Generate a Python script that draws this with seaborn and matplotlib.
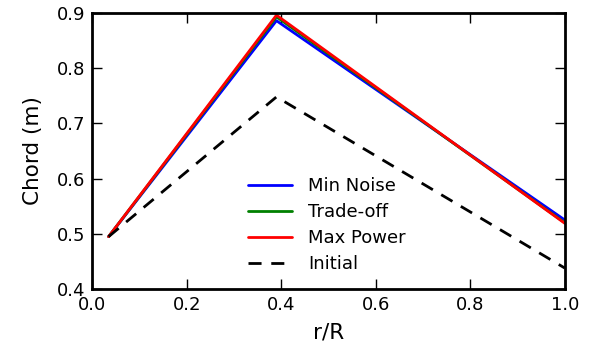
import matplotlib
matplotlib.use("Agg")
import matplotlib.pyplot as plt
import seaborn as sns
import pandas as pd

r_R = [0.035, 0.39, 1.0]
min_noise = [0.495, 0.886, 0.525]
trade_off = [0.495, 0.893, 0.520]
max_power = [0.495, 0.896, 0.519]
initial = [0.495, 0.748, 0.438]

series_names = ["Min Noise", "Trade-off", "Max Power", "Initial"]
series_vals = [min_noise, trade_off, max_power, initial]

rows = []
for name, vals in zip(series_names, series_vals):
    for x, y in zip(r_R, vals):
        rows.append({"r/R": x, "Chord (m)": y, "series": name})
df = pd.DataFrame(rows)

sns.set_style("white")
plt.rcParams['font.family'] = ['DejaVu Sans']
plt.rcParams['text.color'] = 'black'
plt.rcParams['axes.labelcolor'] = 'black'
plt.rcParams['xtick.color'] = 'black'
plt.rcParams['ytick.color'] = 'black'

fig = plt.figure(figsize=(5.94, 3.5), dpi=100)
ax = fig.add_axes([0.155, 0.174, 0.796, 0.789])

palette = {"Min Noise": "blue", "Trade-off": "green", "Max Power": "red", "Initial": "black"}
dashes = {"Min Noise": "", "Trade-off": "", "Max Power": "", "Initial": (4.7, 3.5)}
sns.lineplot(data=df, x="r/R", y="Chord (m)", hue="series", style="series",
             palette=palette, dashes=dashes, linewidth=2, ax=ax, legend=True,
             hue_order=series_names, style_order=series_names)

ax.set_xlim(0, 1.0)
ax.set_ylim(0.4, 0.9)
ax.set_xticks([0.0, 0.2, 0.4, 0.6, 0.8, 1.0])
ax.set_yticks([0.4, 0.5, 0.6, 0.7, 0.8, 0.9])
ax.tick_params(direction="in", top=True, right=True, left=True, bottom=True,
               length=7, width=1, labelsize=13, pad=5)
for s in ax.spines.values():
    s.set_linewidth(2)
    s.set_color("black")
ax.set_xlabel("r/R", fontsize=15.5, labelpad=6)
ax.set_ylabel("Chord (m)", fontsize=15.5, labelpad=10)

leg = ax.legend(loc="center", bbox_to_anchor=(0.497, 0.232), frameon=False,
                fontsize=13, handlelength=2.4, labelspacing=0.45, handletextpad=0.9)

fig.savefig("out.png", dpi=100)
